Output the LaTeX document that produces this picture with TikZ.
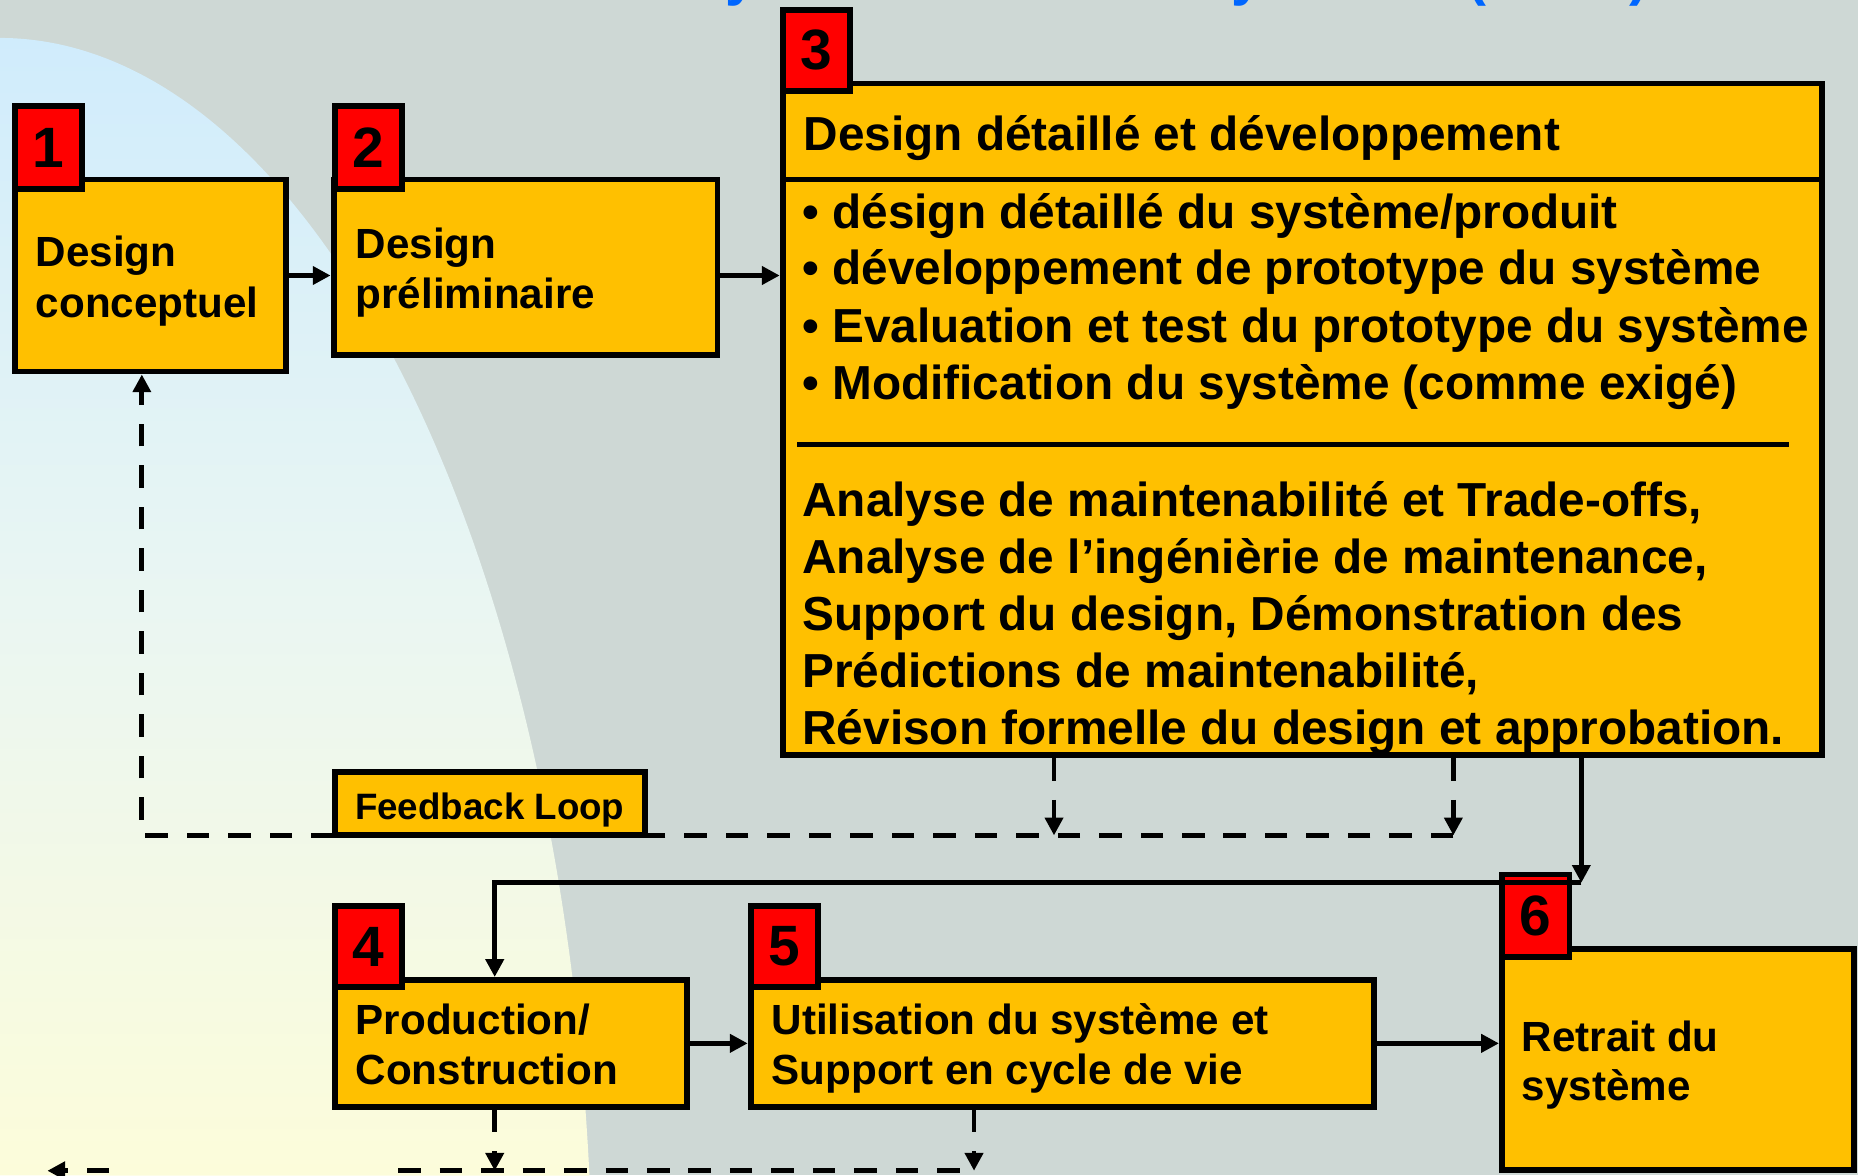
\documentclass[tikz,border=0pt]{standalone}
\usepackage{fontspec}
\setmainfont{Liberation Sans}
\usetikzlibrary{arrows.meta,calc}
\definecolor{bgc}{RGB}{206,216,213}
\definecolor{boxc}{RGB}{255,192,0}
\definecolor{tagc}{RGB}{255,0,0}
\definecolor{topc}{RGB}{208,236,252}
\definecolor{midc}{RGB}{234,246,242}
\definecolor{botc}{RGB}{252,252,218}
\definecolor{titc}{RGB}{0,102,255}
\begin{document}
\begin{tikzpicture}[x=1pt,y=-1pt,
  box/.style={draw=black, fill=boxc, line width=5pt, inner sep=0pt, anchor=north west},
  tagbox/.style={draw=black, fill=tagc, line width=5pt, inner sep=0pt, anchor=north west,
    minimum width=57pt, font=\fontsize{48}{48}\selectfont\bfseries},
  lbl/.style={anchor=base west, inner sep=0pt, font=\fontsize{35.6}{40}\selectfont\bfseries},
  big/.style={anchor=base west, inner sep=0pt, font=\fontsize{40.3}{48}\selectfont\bfseries},
  fbk/.style={anchor=base west, inner sep=0pt, font=\fontsize{31}{36}\selectfont\bfseries},
  ttl/.style={anchor=base west, inner sep=0pt, text=titc, font=\fontsize{48}{48}\selectfont\bfseries},
  arr/.style={line width=4pt, -{Triangle[length=15pt,width=15pt]}},
  dline/.style={line width=4pt, dash pattern=on 19pt off 16pt},
  darr/.style={dline, -{Triangle[length=15pt,width=15pt]}}
]
\useasboundingbox (0,0) rectangle (1568,992);
\fill[bgc] (0,0) rectangle (1568,992);
\shade[top color=topc, bottom color=botc, middle color=midc]
  plot[domain=0:84.2, samples=90, smooth] ({500*sin(\x)},{1100-1068*cos(\x)}) -- (0,992) -- cycle;

% fragments of the title above the picture
\node[ttl] (ty1) at (612,-5) {y};
\node[ttl] (ty2) at (1039,-5) {y};
\node[ttl] (ty3) at (1238,-5) {(};
\node[ttl] (ty4) at (1375,-5) {)};

% boxes (positions are outer corners)
\node[box, minimum width=229pt, minimum height=162pt] (b1) at (10,149) {};
\node[box, minimum width=324pt, minimum height=148pt] (b2) at (279,149) {};
\node[box, minimum width=877pt, minimum height=567pt] (b3) at (658,68) {};
\node[box, minimum width=297pt, minimum height=107pt] (b4) at (280,824.5) {};
\node[box, minimum width=526pt, minimum height=107pt] (b5) at (631,824.5) {};
\node[box, minimum width=297pt, minimum height=187pt] (b6) at (1265,798) {};

% box 3 inner rules
\draw[line width=5pt] (660,151.5) -- (1536,151.5);
\draw[line width=4pt] (673,375) -- (1510,375);

% tags
\node[tagbox, minimum height=70pt] (g1) at (10,87) {1};
\node[tagbox, minimum height=70pt] (g2) at (280,87) {2};
\node[tagbox, minimum height=68pt] (g3) at (658,6) {3};
\node[tagbox, minimum height=68.5pt] (g4) at (280,762) {4};
\node[tagbox, minimum height=68.5pt] (g5) at (631,762) {5};
\node[tagbox, minimum height=69.5pt] (g6) at (1265,735.5) {6};

% texts
\node[lbl] (t1a) at (30,225) {Design};
\node[lbl] (t1b) at (30,268) {conceptuel};
\node[lbl] (t2a) at (300,218) {Design};
\node[lbl] (t2b) at (300,260) {préliminaire};
\node[lbl] (t4a) at (300,873) {Production/};
\node[lbl] (t4b) at (300,915.5) {Construction};
\node[lbl] (t5a) at (651,873) {Utilisation du système et};
\node[lbl] (t5b) at (651,915.5) {Support en cycle de vie};
\node[lbl] (t6a) at (1284,887.5) {Retrait du};
\node[lbl] (t6b) at (1284,928.5) {système};

\node[big] (h3) at (678,127) {Design détaillé et développement};
\node[big] (u1) at (677,193) {• désign détaillé du système/produit};
\node[big] (u2) at (677,240.5) {• développement de prototype du système};
\node[big] (u3) at (677,289) {• Evaluation et test du prototype du système};
\node[big] (u4) at (677,337) {• Modification du système (comme exigé)};
\node[big] (p1) at (677,436) {Analyse de maintenabilité et Trade-offs,};
\node[big] (p2) at (677,484) {Analyse de l’ingénièrie de maintenance,};
\node[big] (p3) at (677,532) {Support du design, Démonstration des};
\node[big] (p4) at (677,580) {Prédictions de maintenabilité,};
\node[big] (p5) at (677,628) {Révison formelle du design et approbation.};

% solid connectors
\draw[arr] (b1.east) -- (b1.east -| b2.west);
\draw[arr] (b1.east -| b2.east) -- (b1.east -| b3.west);
\coordinate (c36) at (1334.5,745);
\coordinate (c4) at (417.5,745);
\draw[arr] (b3.south -| c36) -- (c36);
\draw[arr] (c36) -- (c4) -- (c4 |- b4.north);
\draw[arr] (b4.east) -- (b4.east -| b5.west);
\draw[arr] (b5.east) -- (b5.east -| b6.west);

% feedback loop (dashed)
\coordinate (fb0) at (119.7,705);
\coordinate (fb1) at (889.5,705);
\coordinate (fb2) at (1226.5,705);
\draw[darr] (b3.south -| fb1) -- (fb1);
\draw[darr] (b3.south -| fb2) -- (fb2);
\draw[darr] (fb2) -- (fb0) -- (fb0 |- b1.south);
\node[box, minimum width=261.5pt, minimum height=53.5pt] (fbb) at (280,649) {};
\node[fbk] (fbt) at (299.4,691.4) {Feedback Loop};

% bottom dashed
\coordinate (d4) at (417.5,988);
\coordinate (d5) at (822,988);
\coordinate (dg1) at (336,988);
\coordinate (dg2) at (92,988);
\coordinate (dend) at (40,988);
\draw[darr] (b4.south -| d4) -- (d4);
\draw[darr] (b5.south -| d5) -- (d5);
\draw[dline] (dg1) -- (d5);
\draw[darr] (dg2) -- (dend);
\end{tikzpicture}
\end{document}
